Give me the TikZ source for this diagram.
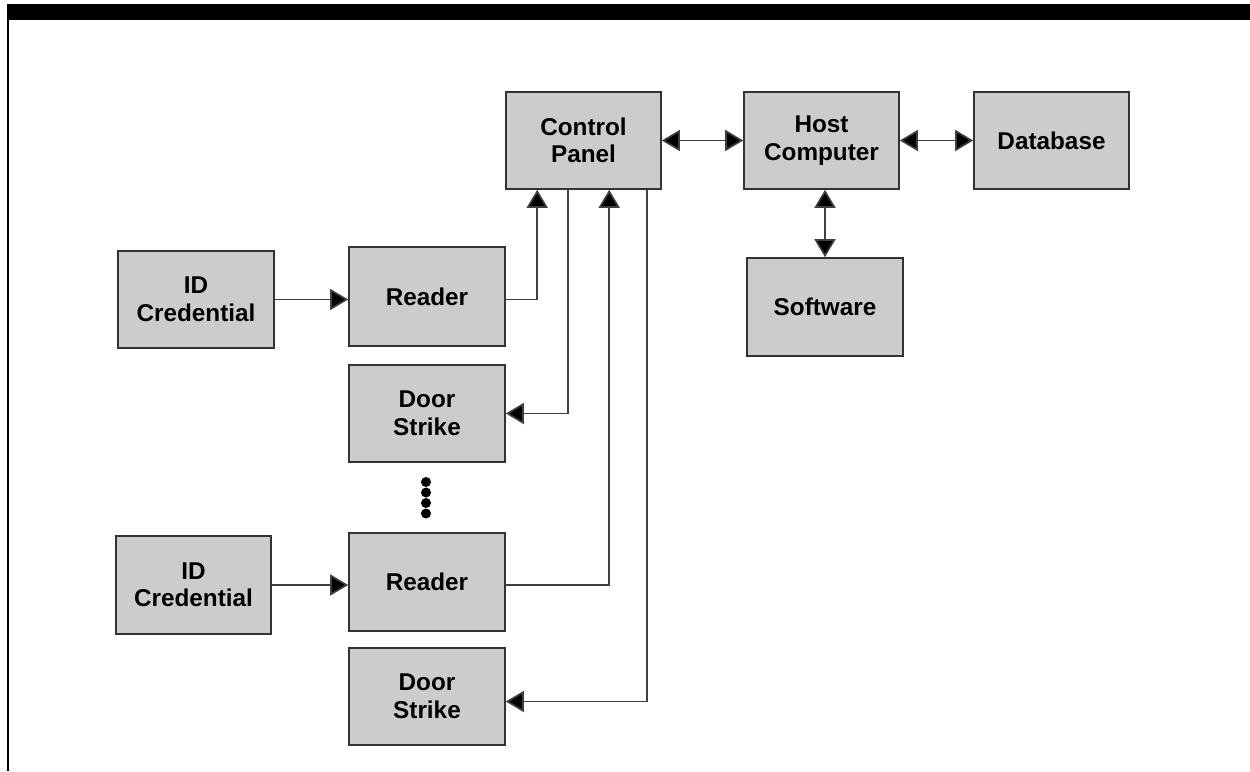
\documentclass[tikz,border=0pt]{standalone}
\usepackage{fontspec}
\setmainfont{Liberation Sans}
\usetikzlibrary{arrows.meta,calc}
\begin{document}
\begin{tikzpicture}[x=1pt,y=-1pt,
  box/.style={draw=black!80, line width=1.6pt, fill=black!20, align=center,
    inner sep=0pt, font=\bfseries\fontsize{24.3}{27.5}\selectfont},
  wire/.style={draw=black!75, line width=1.7pt},
  arr/.style={wire, -{Triangle[length=18pt,width=21pt,fill=black]}},
  biarr/.style={wire, {Triangle[length=18pt,width=21pt,fill=black]}-{Triangle[length=18pt,width=21pt,fill=black]}}]
\useasboundingbox (0,0) rectangle (1250,771);
% frame
\fill[black] (7,4) rectangle (1250,20);
\fill[black] (7,20) rectangle (9,771);
% boxes
\node[box, minimum width=155pt, minimum height=97pt] (CP)  at (583.5,140.5) {Control\\Panel};
\node[box, minimum width=155pt, minimum height=97pt] (HC)  at (821.5,140.5) {Host\\Computer};
\node[box, minimum width=155pt, minimum height=97pt] (DB)  at (1051.5,140.5) {Database};
\node[box, minimum width=156pt, minimum height=98pt] (SW)  at (825,307) {Software};
\node[box, minimum width=156pt, minimum height=97pt] (ID1) at (196,299.5) {ID\\Credential};
\node[box, minimum width=156pt, minimum height=99pt] (R1)  at (427,296.5) {Reader};
\node[box, minimum width=156pt, minimum height=97pt] (DS1) at (427,413.5) {Door\\Strike};
\node[box, minimum width=155pt, minimum height=98pt] (ID2) at (193.5,585) {ID\\Credential};
\node[box, minimum width=156pt, minimum height=98pt] (R2)  at (427,582) {Reader};
\node[box, minimum width=156pt, minimum height=97pt] (DS2) at (427,696.5) {Door\\Strike};
% ports on the control panel
\coordinate (cp1) at ($(CP.south west)+(32,0)$);
\coordinate (cp2) at ($(CP.south west)+(63,0)$);
\coordinate (cp3) at ($(CP.south west)+(104,0)$);
\coordinate (cp4) at ($(CP.south west)+(142,0)$);
% connectors
\draw[arr] (ID1.east) -- (ID1.east -| R1.west);
\draw[arr] (R1.east |- ID1.east) -| (cp1);
\draw[arr] (cp2) |- (DS1.east);
\draw[arr] (ID2.east) -- (ID2.east -| R2.west);
\draw[arr] (R2.east |- ID2.east) -| (cp3);
\draw[arr] (cp4) |- ($(DS2.east)+(0,5)$);
\draw[biarr] (CP.east) -- (HC.west);
\draw[biarr] (HC.east) -- (DB.west);
\draw[biarr] (SW.north |- HC.south) -- (SW.north);
% continuation dots
\foreach \yy in {482,492.5,503,513.5} \fill[black] (426,\yy) circle (5);
\end{tikzpicture}
\end{document}
